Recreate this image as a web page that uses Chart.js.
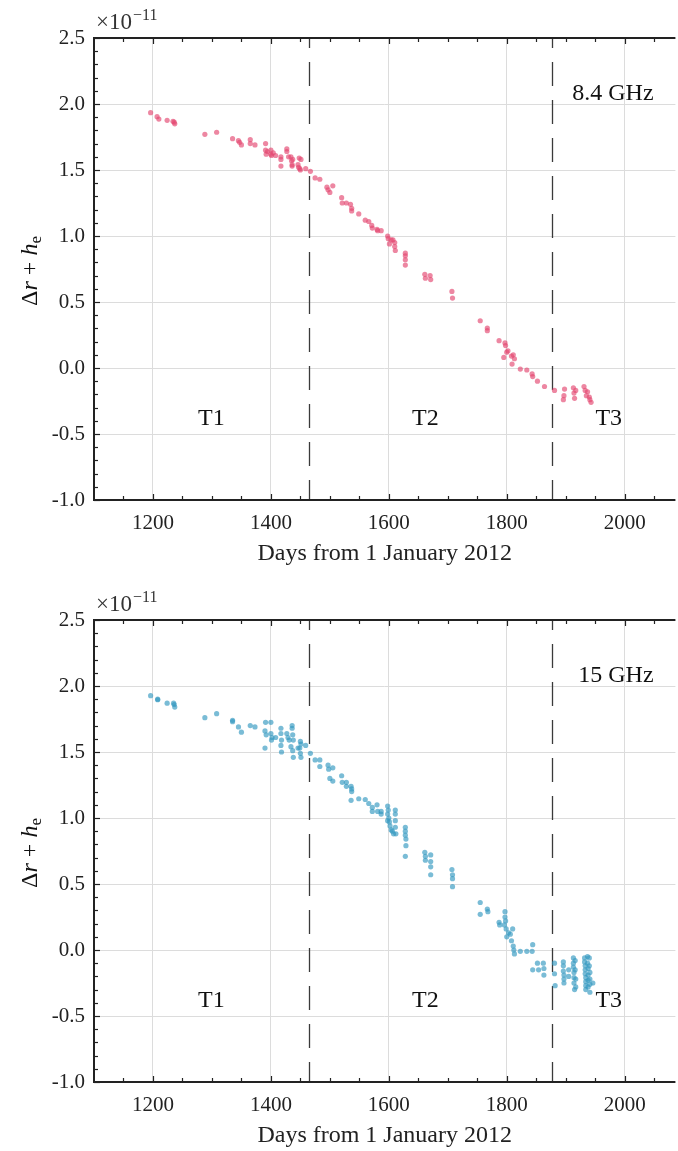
<!DOCTYPE html>
<html>
<head>
<meta charset="utf-8">
<script src="https://cdn.jsdelivr.net/npm/chart.js@4/dist/chart.umd.min.js"></script>
<style>
  html, body { margin: 0; padding: 0; background: #fff; overflow: hidden; }
  canvas { display: block; }
</style>
</head>
<body>
<canvas id="c84" width="678" height="582"></canvas>
<canvas id="c15" width="678" height="582"></canvas>
<script>
// x axis: days from 1 January 2012
const xTicks = [1200, 1400, 1600, 1800, 2000];
const yTicks = [-1.0, -0.5, 0.0, 0.5, 1.0, 1.5, 2.0, 2.5];
// period boundaries (days)
const boundaries = [1465, 1876];
const periodLabels = ["T1", "T2", "T3"];
const periodDays = [1299, 1662, 1973];

// 8.4 GHz (units of 1e-11)
const days84 = [
  1196, 1207, 1210, 1224, 1234, 1236, 1237, 1288, 1308, 1335, 1345, 1347, 1350, 1365, 1365, 1373,
  1391, 1391, 1392, 1394, 1400, 1400, 1401, 1404, 1408, 1417, 1417, 1417, 1427, 1427, 1430, 1434,
  1435, 1436, 1436, 1437, 1446, 1447, 1449, 1450, 1448, 1451, 1459, 1467, 1475, 1483, 1495, 1497,
  1500, 1505, 1520, 1521, 1528, 1535, 1537, 1537, 1549, 1560, 1566, 1571, 1572, 1580, 1581, 1587,
  1598, 1599, 1601, 1604, 1607, 1610, 1610, 1611, 1628, 1628, 1628, 1628, 1661, 1662, 1670, 1671,
  1707, 1708, 1755, 1767, 1767, 1787, 1797, 1798, 1800, 1802, 1795, 1808, 1809, 1811, 1813, 1823,
  1834, 1843, 1844, 1852, 1864, 1881, 1897, 1896, 1898, 1913, 1914, 1915, 1917, 1931, 1933, 1935,
  1937, 1940, 1941, 1943
];
const vals84 = [
  1.934, 1.904, 1.886, 1.876, 1.869, 1.862, 1.850, 1.770, 1.786, 1.737, 1.722, 1.710, 1.690, 1.730, 1.700, 1.690,
  1.700, 1.650, 1.620, 1.640, 1.650, 1.620, 1.610, 1.630, 1.610, 1.580, 1.600, 1.530, 1.660, 1.640, 1.600, 1.600,
  1.570, 1.540, 1.530, 1.580, 1.540, 1.520, 1.510, 1.500, 1.590, 1.580, 1.510, 1.490, 1.440, 1.430, 1.370, 1.350,
  1.330, 1.380, 1.290, 1.250, 1.250, 1.240, 1.210, 1.190, 1.167, 1.120, 1.110, 1.080, 1.060, 1.050, 1.040, 1.040,
  1.000, 0.980, 0.940, 0.970, 0.970, 0.950, 0.920, 0.890, 0.870, 0.850, 0.820, 0.780, 0.710, 0.680, 0.700, 0.670,
  0.580, 0.530, 0.358, 0.303, 0.283, 0.207, 0.190, 0.170, 0.120, 0.130, 0.080, 0.090, 0.030, 0.100, 0.070, -0.008,
  -0.015, -0.045, -0.065, -0.100, -0.140, -0.170, -0.210, -0.240, -0.160, -0.150, -0.190, -0.230, -0.170, -0.140, -0.170, -0.210,
  -0.180, -0.220, -0.240, -0.260
];

// 15 GHz (units of 1e-11)
const days15 = [
  1196, 1208, 1208, 1224, 1235, 1236, 1237, 1288, 1308, 1335, 1335, 1345, 1350, 1365, 1373, 1391,
  1400, 1390, 1392, 1400, 1402, 1401, 1390, 1408, 1417, 1417, 1418, 1417, 1418, 1427, 1429, 1431,
  1436, 1436, 1437, 1438, 1434, 1437, 1438, 1446, 1449, 1450, 1451, 1450, 1451, 1459, 1467, 1475,
  1483, 1483, 1497, 1498, 1505, 1500, 1505, 1520, 1521, 1528, 1528, 1536, 1537, 1537, 1536, 1549,
  1560, 1566, 1572, 1572, 1580, 1581, 1587, 1587, 1598, 1598, 1598, 1599, 1600, 1601, 1602, 1604,
  1606, 1608, 1611, 1611, 1611, 1611, 1612, 1628, 1628, 1628, 1629, 1629, 1628, 1661, 1662, 1662,
  1671, 1671, 1671, 1671, 1707, 1708, 1708, 1708, 1755, 1755, 1767, 1768, 1787, 1788, 1797, 1797,
  1798, 1796, 1799, 1803, 1800, 1808, 1810, 1811, 1812, 1813, 1806, 1823, 1834, 1843, 1844, 1844,
  1852, 1854, 1862, 1863, 1863, 1881, 1881, 1882, 1896, 1896, 1896, 1897, 1897, 1897, 1905, 1905,
  1913, 1913, 1913, 1914, 1914, 1914, 1915, 1916, 1916, 1917, 1917, 1932, 1932, 1933, 1933, 1933,
  1934, 1934, 1934, 1934, 1937, 1937, 1938, 1938, 1938, 1938, 1940, 1940, 1941, 1941, 1941, 1941,
  1946
];
const vals15 = [
  1.927, 1.900, 1.896, 1.870, 1.870, 1.860, 1.840, 1.760, 1.790, 1.740, 1.730, 1.690, 1.650, 1.700, 1.690, 1.725,
  1.725, 1.660, 1.630, 1.640, 1.610, 1.590, 1.530, 1.610, 1.680, 1.640, 1.590, 1.550, 1.500, 1.640, 1.610, 1.590,
  1.700, 1.680, 1.630, 1.590, 1.540, 1.510, 1.460, 1.530, 1.530, 1.580, 1.560, 1.490, 1.460, 1.550, 1.490, 1.440,
  1.440, 1.390, 1.400, 1.370, 1.380, 1.300, 1.280, 1.320, 1.270, 1.270, 1.240, 1.240, 1.220, 1.200, 1.134, 1.146,
  1.140, 1.110, 1.080, 1.050, 1.100, 1.050, 1.050, 1.030, 1.090, 1.030, 0.980, 1.060, 1.000, 0.970, 0.940, 0.910,
  0.900, 0.880, 1.060, 1.030, 0.980, 0.930, 0.880, 0.930, 0.900, 0.870, 0.840, 0.790, 0.710, 0.740, 0.710, 0.680,
  0.720, 0.670, 0.630, 0.570, 0.610, 0.570, 0.540, 0.480, 0.360, 0.270, 0.310, 0.290, 0.210, 0.190, 0.290, 0.250,
  0.220, 0.190, 0.160, 0.130, 0.100, 0.070, 0.160, 0.030, 0.000, -0.030, 0.120, -0.010, -0.010, -0.010, 0.040, -0.150,
  -0.100, -0.150, -0.100, -0.140, -0.190, -0.100, -0.180, -0.270, -0.090, -0.120, -0.160, -0.190, -0.220, -0.250, -0.150, -0.200,
  -0.060, -0.100, -0.130, -0.170, -0.210, -0.250, -0.300, -0.080, -0.150, -0.220, -0.280, -0.060, -0.090, -0.120, -0.150, -0.180,
  -0.210, -0.240, -0.270, -0.300, -0.050, -0.100, -0.140, -0.190, -0.230, -0.280, -0.060, -0.120, -0.170, -0.220, -0.260, -0.320,
  -0.250
];

const SERIF = '"Liberation Serif", "DejaVu Serif", serif';
const INK = "#222222";

/**
 * 坐标轴边框、内向刻度、分期虚线与文字
 */
const decor = {
  id: "decor",
  beforeDatasetsDraw(chart, args, opts) {
    const { ctx, chartArea: a, scales: { x } } = chart;
    ctx.save();
    ctx.strokeStyle = "#3a3a3a";
    ctx.lineWidth = 1.3;
    ctx.setLineDash([24, 14]);
    ctx.lineDashOffset = 14;
    boundaries.forEach((d) => {
      const px = Math.round(x.getPixelForValue(d)) + 0.5;
      ctx.beginPath();
      ctx.moveTo(px, a.top);
      ctx.lineTo(px, a.bottom);
      ctx.stroke();
    });
    ctx.restore();
  },
  afterDraw(chart, args, opts) {
    const { ctx, chartArea: a, scales: { x, y } } = chart;
    ctx.save();
    ctx.strokeStyle = INK;
    ctx.lineWidth = 1.2;
    // x 刻度（上下两侧，向内）
    for (let d = 1150; d <= 2050; d += 50) {
      const px = Math.round(x.getPixelForValue(d)) + 0.5;
      const len = d % 200 === 0 ? 6 : 4;
      ctx.beginPath();
      ctx.moveTo(px, a.bottom);
      ctx.lineTo(px, a.bottom - len);
      ctx.moveTo(px, a.top);
      ctx.lineTo(px, a.top + len);
      ctx.stroke();
    }
    // y 刻度（左侧，向内）
    for (let i = -10; i <= 25; i++) {
      const py = Math.round(y.getPixelForValue(i / 10)) + 0.5;
      const len = i % 5 === 0 ? 6 : 4;
      ctx.beginPath();
      ctx.moveTo(a.left, py);
      ctx.lineTo(a.left + len, py);
      ctx.stroke();
    }
    // 边框
    ctx.lineWidth = 2;
    ctx.beginPath();
    ctx.moveTo(a.right, a.top);
    ctx.lineTo(a.left, a.top);
    ctx.lineTo(a.left, a.bottom);
    ctx.lineTo(a.right, a.bottom);
    ctx.stroke();

    ctx.fillStyle = "#111";
    // 分期标签
    ctx.font = "24px " + SERIF;
    ctx.textAlign = "center";
    ctx.textBaseline = "alphabetic";
    periodLabels.forEach((t, i) => {
      ctx.fillText(t, x.getPixelForValue(periodDays[i]), y.getPixelForValue(-0.435));
    });
    // 频率标签
    ctx.textAlign = "right";
    ctx.fillText(opts.band, x.getPixelForValue(2049), y.getPixelForValue(2.03));

    // ×10^-11
    ctx.textAlign = "left";
    ctx.font = "23px " + SERIF;
    ctx.fillStyle = "#333";
    ctx.fillText("×10", a.left + 2, a.top - 9);
    const w = ctx.measureText("×10").width;
    ctx.font = "16px " + SERIF;
    ctx.fillText("−11", a.left + 2 + w + 1, a.top - 18);
    ctx.fillStyle = "#111";

    // y 轴标题 Δr + h_e
    const parts = [
      { t: "Δ", f: "24px " + SERIF, dy: 0 },
      { t: "r", f: "italic 24px " + SERIF, dy: 0 },
      { t: " + ", f: "24px " + SERIF, dy: 0 },
      { t: "h", f: "italic 24px " + SERIF, dy: 0 },
      { t: "e", f: "17px " + SERIF, dy: 4 },
    ];
    let total = 0;
    parts.forEach((p) => {
      ctx.font = p.f;
      p.w = ctx.measureText(p.t).width;
      total += p.w;
    });
    ctx.translate(37, (a.top + a.bottom) / 2 + 2);
    ctx.rotate(-Math.PI / 2);
    let cx = -total / 2;
    parts.forEach((p) => {
      ctx.font = p.f;
      ctx.fillText(p.t, cx, p.dy);
      cx += p.w;
    });
    ctx.restore();
  },
};

function makeChart(id, days, vals, color, band) {
  const points = days.map((d, i) => ({ x: d, y: vals[i] }));
  return new Chart(document.getElementById(id), {
    type: "scatter",
    data: {
      datasets: [
        {
          data: points,
          backgroundColor: color,
          borderWidth: 0,
          pointRadius: 2.6,
          pointHoverRadius: 2.6,
        },
      ],
    },
    options: {
      responsive: false,
      animation: false,
      events: [],
      layout: { padding: { top: 38, left: 0, right: 0, bottom: 0 } },
      plugins: {
        legend: { display: false },
        tooltip: { enabled: false },
        decor: { band },
      },
      scales: {
        x: {
          type: "linear",
          min: 1100,
          max: 2086,
          afterBuildTicks: (s) => {
            s.ticks = xTicks.map((v) => ({ value: v }));
          },
          afterFit: (s) => {
            s.height = 82;
          },
          grid: { color: "#dcdcdc", lineWidth: 1, drawTicks: false },
          border: { display: false },
          ticks: {
            padding: 11,
            color: INK,
            font: { family: SERIF, size: 21 },
            maxRotation: 0,
            callback: (v) => String(v),
          },
          title: {
            display: true,
            text: "Days from 1 January 2012",
            color: INK,
            font: { family: SERIF, size: 24 },
            padding: { top: 0, bottom: 14 },
          },
        },
        y: {
          min: -1,
          max: 2.5,
          afterBuildTicks: (s) => {
            s.ticks = yTicks.map((v) => ({ value: v }));
          },
          afterFit: (s) => {
            s.width = 94;
          },
          grid: { color: "#dcdcdc", lineWidth: 1, drawTicks: false },
          border: { display: false },
          ticks: {
            padding: 9,
            color: INK,
            font: { family: SERIF, size: 21 },
            callback: (v) => v.toFixed(1),
          },
        },
      },
    },
    plugins: [decor],
  });
}

makeChart("c84", days84, vals84, "rgba(228, 70, 112, 0.65)", "8.4 GHz");
makeChart("c15", days15, vals15, "rgba(50, 152, 192, 0.65)", "15 GHz");
</script>
</body>
</html>
